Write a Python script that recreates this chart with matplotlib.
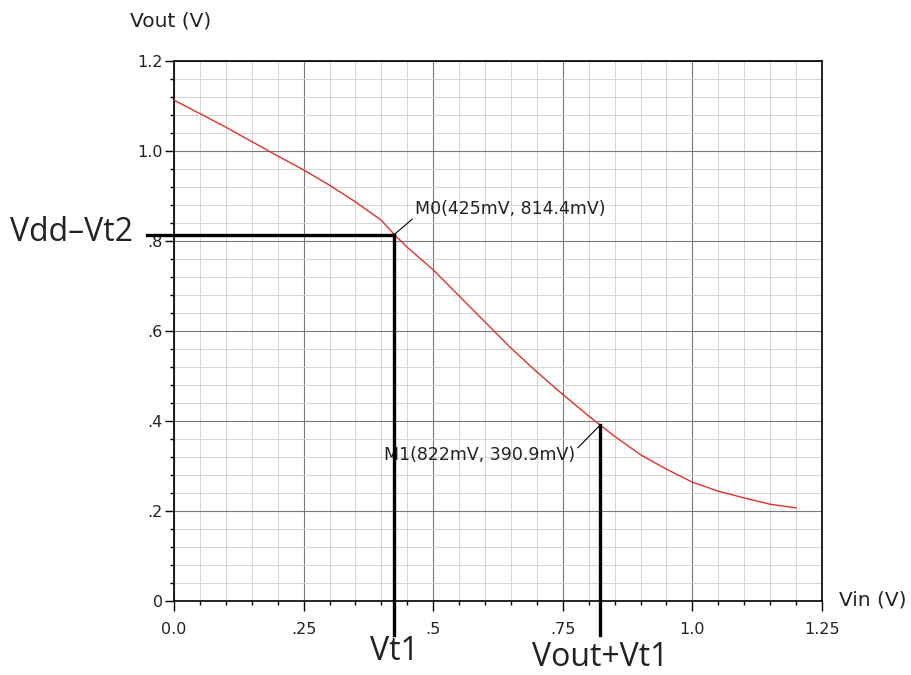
import matplotlib
matplotlib.use("Agg")
import matplotlib.pyplot as plt
from matplotlib.ticker import MultipleLocator, FixedLocator, FixedFormatter

# transfer curve
vin = [0.0, 0.05, 0.1, 0.15, 0.2, 0.25, 0.3, 0.35, 0.4, 0.425, 0.45, 0.5, 0.55,
       0.6, 0.65, 0.7, 0.75, 0.8, 0.822, 0.85, 0.9, 0.95, 1.0, 1.05, 1.1, 1.15, 1.2]
vout = [1.113, 1.083, 1.053, 1.021, 0.989, 0.958, 0.924, 0.887, 0.846, 0.8144, 0.786,
        0.736, 0.678, 0.620, 0.562, 0.509, 0.459, 0.411, 0.391, 0.366, 0.325, 0.293,
        0.264, 0.244, 0.229, 0.215, 0.207]

markers = [("M0", 0.425, 0.8144), ("M1", 0.822, 0.3909)]
xticks = [0.0, 0.25, 0.5, 0.75, 1.0, 1.25]
xtick_labels = ["0.0", ".25", ".5", ".75", "1.0", "1.25"]
yticks = [0.0, 0.2, 0.4, 0.6, 0.8, 1.0, 1.2]
ytick_labels = ["0", ".2", ".4", ".6", ".8", "1.0", "1.2"]

fig = plt.figure(figsize=(9.12, 6.75), dpi=100)
ax = fig.add_axes([174 / 912, 1 - 601 / 675, 648 / 912, 540 / 675])
ax.set_xlim(0, 1.25)
ax.set_ylim(0, 1.2)

ax.xaxis.set_major_locator(FixedLocator(xticks))
ax.xaxis.set_major_formatter(FixedFormatter(xtick_labels))
ax.yaxis.set_major_locator(FixedLocator(yticks))
ax.yaxis.set_major_formatter(FixedFormatter(ytick_labels))
ax.xaxis.set_minor_locator(MultipleLocator(0.05))
ax.yaxis.set_minor_locator(MultipleLocator(0.04))

ax.grid(which="major", color="#7a7a7a", linewidth=0.8)
ax.grid(which="minor", color="#d4d4d4", linewidth=0.7)
ax.set_axisbelow(True)
ax.tick_params(axis="x", which="major", direction="out", length=7, width=1,
               labelsize=11.5, pad=8, top=False, labelcolor="#222222")
ax.tick_params(axis="y", which="major", direction="out", length=6.5, width=1,
               labelsize=11.5, pad=1.5, right=False, labelcolor="#222222")
ax.tick_params(which="minor", direction="out", length=3, width=1,
               top=False, right=False)
for s in ax.spines.values():
    s.set_linewidth(1.2)

ax.plot(vin, vout, color="#e0302e", linewidth=1.0, zorder=3)

# construction lines
lw = 2.4
x0, y0 = markers[0][1], markers[0][2]
x1, y1 = markers[1][1], markers[1][2]
ybot = -0.075
ax.plot([-0.052, x0], [y0, y0], color="black", lw=lw, clip_on=False, zorder=4)
ax.plot([x0, x0], [y0, ybot], color="black", lw=lw, clip_on=False, zorder=4)
ax.plot([x1, x1], [y1, ybot], color="black", lw=lw, clip_on=False, zorder=4)

# marker labels
ax.annotate("M0(425mV, 814.4mV)", xy=(x0, y0), xytext=(0.465, 0.870),
            fontsize=12.5, va="center", ha="left", color="#222222",
            arrowprops=dict(arrowstyle="-", color="black", lw=0.8,
                            shrinkA=0, shrinkB=0, relpos=(0, 0.1)))
ax.annotate("M1(822mV, 390.9mV)", xy=(x1, y1), xytext=(0.7735, 0.324),
            fontsize=12.5, va="center", ha="right", color="#222222",
            arrowprops=dict(arrowstyle="-", color="black", lw=0.8,
                            shrinkA=0, shrinkB=0, relpos=(1, 0.75)))

big = dict(fontsize=23, family="Open Sans", clip_on=False, color="#222222")
ax.text(-0.079, y0 + 0.004, "Vdd\u2013Vt2", ha="right", va="center", **big)
ax.text(x0, -0.131, "Vt1", ha="center", va="baseline", **big)
ax.text(x1, -0.144, "Vout+Vt1", ha="center", va="baseline", **big)

fig.text(130 / 912, 1 - 21 / 675, "Vout (V)", fontsize=14.5, ha="left",
         va="center", color="#222222")
fig.text(839 / 912, 1 - 600 / 675, "Vin (V)", fontsize=14.5, ha="left",
         va="center", color="#222222")

fig.savefig("out.png", dpi=100)
